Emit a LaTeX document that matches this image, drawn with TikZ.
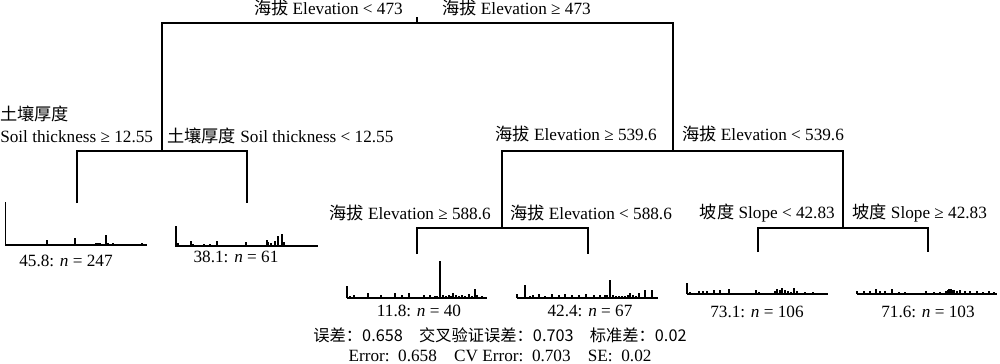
\documentclass[tikz,border=0pt]{standalone}
\usepackage{fontspec}
\setmainfont{Liberation Serif}
\newfontfamily\cjk{Noto Sans CJK SC}
\newcommand\zh[1]{{\cjk #1}}
\begin{document}
\begin{tikzpicture}[x=0.75pt,y=-0.75pt,
  every node/.style={inner sep=0pt, font=\fontsize{12.9}{16.5}\selectfont},
  branch/.style={line width=0.8pt, black},
  bar/.style={line width=1.1pt, black},
  axis/.style={line width=0.8pt, black}]
\useasboundingbox (0,0) rectangle (1000,364);

% split points and leaf tops
\coordinate (root) at (417,23);
\coordinate (sL) at (162,151);
\coordinate (sR) at (673,151);
\coordinate (sRL) at (502,228);
\coordinate (sRR) at (843,228);
\coordinate (t1) at (77,203);
\coordinate (t2) at (247,203);
\coordinate (t3) at (417,254);
\coordinate (t4) at (588,254);
\coordinate (t5) at (758,252);
\coordinate (t6) at (928,252);

\draw[branch] (root) -- ++(0,-6);
\draw[branch] (sL) |- (root) -| (sR);
\draw[branch] (t1) |- (sL) -| (t2);
\draw[branch] (sRL) |- (sR) -| (sRR);
\draw[branch] (t3) |- (sRL) -| (t4);
\draw[branch] (t5) |- (sRR) -| (t6);

% split labels
\node[anchor=base east] (l0a) at (403,15) {\zh{海拔} Elevation < 473};
\node[anchor=base west] (l0b) at (442,15) {\zh{海拔} Elevation ≥ 473};
\node[anchor=south west, align=left] (l1a) at (0,143) {\zh{土壤厚度}\\Soil thickness ≥ 12.55};
\node[anchor=base west] (l1b) at (167,142) {\zh{土壤厚度} Soil thickness < 12.55};
\node[anchor=base east] (l2a) at (657,140) {\zh{海拔} Elevation ≥ 539.6};
\node[anchor=base west] (l2b) at (682,140) {\zh{海拔} Elevation < 539.6};
\node[anchor=base east] (l3a) at (491,219) {\zh{海拔} Elevation ≥ 588.6};
\node[anchor=base west] (l3b) at (510,219) {\zh{海拔} Elevation < 588.6};
\node[anchor=base east] (l4a) at (835,218) {\zh{坡度} Slope < 42.83};
\node[anchor=base west] (l4b) at (852,218) {\zh{坡度} Slope ≥ 42.83};

% histograms
\coordinate (h1) at (5,245);
\draw[axis] (h1) -- ++(142,0);
\foreach \o/\h in {0.5/43, 15/1, 30/1, 35/1, 42/5, 70/7, 91/2, 93/2, 95/2, 98/1, 101/10, 103/2, 108/2, 122/1, 127/1, 131/1, 137/2}
  \draw[bar] (h1) ++(\o,0) -- ++(0,-\h);

\coordinate (h2) at (175,246);
\draw[axis] (h2) -- ++(143,0);
\foreach \o/\h in {1/20, 3/3, 16/5, 18/2, 20/1, 25/1, 29/2, 35/2, 42/5, 71/4, 92/6, 93.5/4, 96/3, 100/5, 103/10, 107/12, 109/4, 112/1, 116/1, 120/1, 124/1, 128/1, 132/1, 136/1, 140/1}
  \draw[bar] (h2) ++(\o,0) -- ++(0,-\h);

\coordinate (h3) at (347,298);
\draw[axis] (h3) -- ++(140,0);
\foreach \o/\h in {0/12, 3/2, 7/3, 11/1, 15/1, 21/5, 27/1, 34/3, 42/1, 48/5, 55/3, 62/5, 69/1, 77/3, 83/3, 88/2, 90/2, 93/37, 96/3, 99/2, 102/3, 104/2, 106/5, 109/3, 112/2, 115/3, 118/2, 122/4, 125/2, 128/9, 130/3, 135/2}
  \draw[bar] (h3) ++(\o,0) -- ++(0,-\h);

\coordinate (h4) at (517,298);
\draw[axis] (h4) -- ++(141,0);
\foreach \o/\h in {0/4, 8/13, 13/2, 16/3, 22/4, 28/2, 35/4, 42/3, 48/4, 55/3, 62/3, 69/4, 77/3, 83/3, 88/3, 90/3, 93/18, 96/3, 99/2, 102/2, 105/2, 108/2, 111/3, 113/5, 116/3, 119/2, 122/5, 128/8, 135/8}
  \draw[bar] (h4) ++(\o,0) -- ++(0,-\h);

\coordinate (h5) at (687,294);
\draw[axis] (h5) -- ++(141,0);
\foreach \o/\h in {0/11, 3/2, 12/3, 16/3, 20/3, 27/4, 33/4, 42/5, 48/1, 57/1, 65/1, 69/4, 72/2, 77/1, 88/3, 90/5, 93/4, 95/6, 98/4, 101/3, 104/2, 107/6, 110/3, 114/1, 118/2, 122/1, 126/2, 130/1, 134/1, 138/1}
  \draw[bar] (h5) ++(\o,0) -- ++(0,-\h);

\coordinate (h6) at (857,294);
\draw[axis] (h6) -- ++(140,0);
\foreach \o/\h in {0/3, 7/3, 13/3, 19/5, 23/3, 28/3, 35/5, 42/2, 48/2, 57/1, 63/1, 69/3, 77/2, 83/2, 89/3, 91/4, 92/5, 94/5, 96/4, 97/4, 100/3, 103/4, 108/3, 113/3, 120/3, 126/2, 132/3, 137/2}
  \draw[bar] (h6) ++(\o,0) -- ++(0,-\h);

% leaf labels
\node[anchor=base] (n1) at (66,266) {45.8: \textit{n} = 247};
\node[anchor=base] (n2) at (236,262) {38.1: \textit{n} = 61};
\node[anchor=base] (n3) at (419,316) {11.8: \textit{n} = 40};
\node[anchor=base] (n4) at (590,316) {42.4: \textit{n} = 67};
\node[anchor=base] (n5) at (757,317) {73.1: \textit{n} = 106};
\node[anchor=base] (n6) at (928,317) {71.6: \textit{n} = 103};

% error summary
\node[anchor=base, font=\fontsize{12.2}{16}\selectfont\cjk] (e1) at (500,341) {误差：0.658\quad 交叉验证误差：0.703\quad 标准差：0.02};
\node[anchor=base] (e2) at (500,361) {Error:\ \ 0.658\quad CV Error:\ \ 0.703\quad SE:\ \ 0.02};
\end{tikzpicture}
\end{document}
